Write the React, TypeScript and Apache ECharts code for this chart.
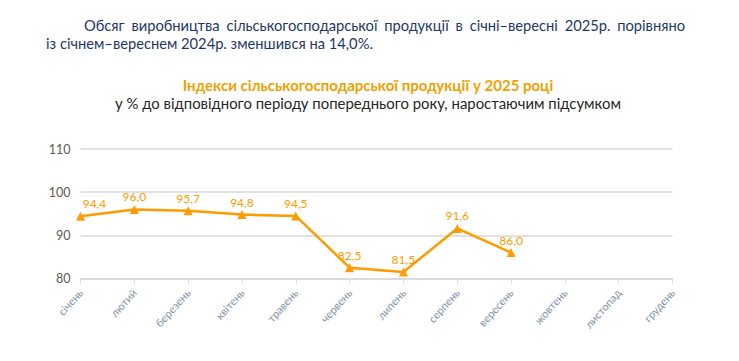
import React, { useEffect, useRef } from "react";
import * as echarts from "echarts";

const months = ["січень", "лютий", "березень", "квітень", "травень", "червень", "липень", "серпень", "вересень", "жовтень", "листопад", "грудень"];
const values = [94.4, 96.0, 95.7, 94.8, 94.5, 82.5, 81.5, 91.6, 86.0];
const line1Words = ["Обсяг", "виробництва", "сільськогосподарської", "продукції", "в", "січні–вересні", "2025р.", "порівняно"];
const line2Text = "із січнем–вереснем 2024р. зменшився на 14,0%.";
const titleText = "Індекси сільськогосподарської продукції у 2025 році";
const subtitleText = "у % до відповідного періоду попереднього року, наростаючим підсумком";

const FONT = "Lato, 'Liberation Sans', sans-serif";
const PARA_SIZE = 14.7;
const PARA_COLOR = "#1F3864";
const ORANGE = "#FF9A00";

function measure(text: string, size: number, weight = "normal"): number {
  const c = document.createElement("canvas");
  const ctx = c.getContext("2d");
  if (!ctx) return text.length * size * 0.5;
  ctx.font = `${weight} ${size}px ${FONT}`;
  return ctx.measureText(text).width;
}

export default function App() {
  const ref = useRef<HTMLDivElement>(null);
  useEffect(() => {
    if (!ref.current) return;
    const chart = echarts.init(ref.current, undefined, { renderer: "svg" });

    // justified first line
    const x0 = 84;
    const x1 = 685;
    const widths = line1Words.map((w) => measure(w, PARA_SIZE));
    const total = widths.reduce((a, b) => a + b, 0);
    const gap = (x1 - x0 - total) / (line1Words.length - 1);
    let cx = x0;
    const wordEls: any[] = line1Words.map((w, i) => {
      const el = {
        type: "text",
        x: cx,
        y: 24.5,
        style: { text: w, fill: PARA_COLOR, font: `${PARA_SIZE}px ${FONT}`, textAlign: "left", textVerticalAlign: "middle" },
      };
      cx += widths[i] + gap;
      return el;
    });

    chart.setOption({
      animation: false,
      graphic: [
        ...wordEls,
        {
          type: "text",
          x: 46,
          y: 42.5,
          style: { text: line2Text, fill: PARA_COLOR, font: `${PARA_SIZE}px ${FONT}`, textAlign: "left", textVerticalAlign: "middle" },
        },
        {
          type: "text",
          x: 368,
          y: 85,
          style: { text: titleText, fill: "#F0A000", font: `bold 15px ${FONT}`, textAlign: "center", textVerticalAlign: "middle" },
        },
        {
          type: "text",
          x: 368,
          y: 103,
          style: { text: subtitleText, fill: "#262626", font: `14.9px ${FONT}`, textAlign: "center", textVerticalAlign: "middle" },
        },
      ],
      grid: { left: 80.5, right: 66.5, top: 149, bottom: 82.5, containLabel: false },
      xAxis: {
        type: "category",
        data: months,
        boundaryGap: false,
        axisLine: { show: true, lineStyle: { color: "#D9D9D9", width: 1.5 } },
        axisTick: { show: true, length: 5, lineStyle: { color: "#D9D9D9", width: 1 }, alignWithLabel: true },
        axisLabel: { rotate: 48, color: "#8592A6", fontSize: 11, fontFamily: FONT, margin: 12, interval: 0 },
        splitLine: { show: false },
      },
      yAxis: {
        type: "value",
        min: 80,
        max: 110,
        interval: 10,
        axisLine: { show: false },
        axisTick: { show: false },
        axisLabel: { color: "#595959", fontSize: 12.5, fontFamily: FONT, margin: 10 },
        splitLine: { show: true, lineStyle: { color: "#D9D9D9", width: 1.5 } },
      },
      series: [
        {
          type: "line",
          data: values,
          symbol: "triangle",
          symbolSize: 9,
          lineStyle: { color: ORANGE, width: 2.5 },
          itemStyle: { color: ORANGE },
          label: {
            show: true,
            position: "top",
            distance: 2,
            color: ORANGE,
            fontSize: 12,
            fontFamily: FONT,
            formatter: (p: any) => Number(p.value).toFixed(1).replace(".", ","),
          },
          labelLayout: (params: any) => (params.dataIndex === 0 ? { dx: 14 } : {}),
        },
      ],
    });
    return () => chart.dispose();
  }, []);
  return <div ref={ref} style={{ position: "fixed", left: 0, top: 0, width: 739, height: 361, background: "#fff" }} />;
}
